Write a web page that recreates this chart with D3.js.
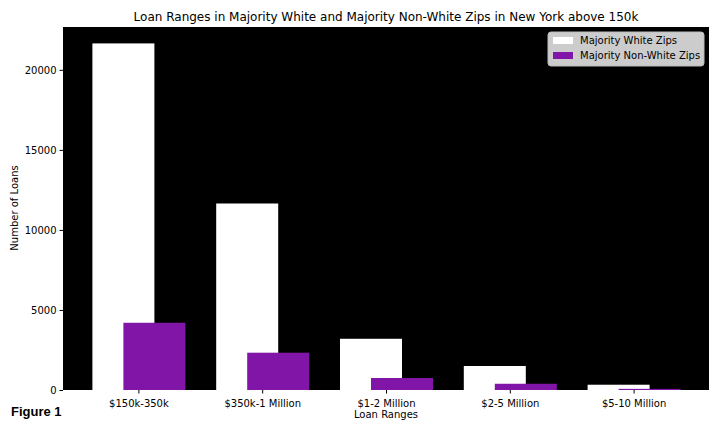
<!DOCTYPE html>
<html><head><meta charset="utf-8">
<script src="https://cdn.jsdelivr.net/npm/d3@7"></script>
<style>body{margin:0;background:#fff}text{font-family:"DejaVu Sans",sans-serif}</style>
</head><body>
<svg id="chart" width="720" height="432"></svg>
<script>
const categories = ["$150k-350k", "$350k-1 Million", "$1-2 Million", "$2-5 Million", "$5-10 Million"]
const whiteZips = [21650, 11650, 3200, 1500, 330]
const nonWhiteZips = [4200, 2330, 750, 390, 70]
const yTicks = [0, 5000, 10000, 15000, 20000]

const svg = d3.select("#chart")
const m = {l: 63, r: 709, t: 27, b: 390}

// band scale with some padding so bars sit like matplotlib's
const x = d3.scaleBand().domain(categories).range([m.l + 14, m.r - 13]).paddingInner(0).paddingOuter(0)
const y = d3.scaleLinear().domain([0, 22675]).range([m.b, m.t])
const bw = 62

svg.append("rect").attr("x", m.l).attr("y", m.t).attr("width", m.r - m.l).attr("height", m.b - m.t).attr("fill", "#000")

const cx = d => x(d) + x.bandwidth() / 2
svg.selectAll(".w").data(categories).join("rect")
  .attr("x", d => cx(d) - 15.5 - bw / 2).attr("width", bw)
  .attr("y", (d, i) => y(whiteZips[i])).attr("height", (d, i) => y(0) - y(whiteZips[i]))
  .attr("fill", "#fff")
svg.selectAll(".p").data(categories).join("rect")
  .attr("x", d => cx(d) + 15.5 - bw / 2).attr("width", bw)
  .attr("y", (d, i) => y(nonWhiteZips[i])).attr("height", (d, i) => y(0) - y(nonWhiteZips[i]))
  .attr("fill", "#8015a8")

const xa = svg.append("g").attr("transform", `translate(0,${m.b})`)
  .call(d3.axisBottom(x).tickSize(3.5).tickSizeOuter(0))
const ya = svg.append("g").attr("transform", `translate(${m.l},0)`)
  .call(d3.axisLeft(y).tickValues(yTicks).tickFormat(d3.format("d")).tickSize(3.5).tickSizeOuter(0))
for (const a of [xa, ya]) {
  a.select(".domain").remove()
  a.selectAll("text").attr("font-size", 10).attr("fill", "#000")
}
xa.selectAll("text").attr("dy", "1em")

svg.append("text").attr("x", 386).attr("y", 21).attr("text-anchor", "middle").attr("font-size", 12)
  .text("Loan Ranges in Majority White and Majority Non-White Zips in New York above 150k")
svg.append("text").attr("x", 386).attr("y", 418).attr("text-anchor", "middle").attr("font-size", 10).text("Loan Ranges")
svg.append("text").attr("transform", "translate(18,208) rotate(-90)").attr("text-anchor", "middle").attr("font-size", 10).text("Number of Loans")
svg.append("text").attr("x", 11).attr("y", 416).attr("font-size", 13).attr("font-family", "Liberation Sans Narrow, Arial Narrow, sans-serif").attr("font-weight", "bold").attr("style", "font-family:'Liberation Sans Narrow',sans-serif").text("Figure 1")

const lg = svg.append("g").attr("transform", "translate(548,32)")
lg.append("rect").attr("width", 156).attr("height", 34).attr("rx", 3).attr("fill", "#cccccc").attr("stroke", "#bbb")
const labels = ["Majority White Zips", "Majority Non-White Zips"]
const colors = ["#fff", "#8015a8"]
labels.forEach((t, i) => {
  lg.append("rect").attr("x", 5).attr("y", 5 + i * 15).attr("width", 20).attr("height", 7).attr("fill", colors[i])
  lg.append("text").attr("x", 32).attr("y", 12 + i * 15).attr("font-size", 10).text(t)
})
</script>
</body></html>
